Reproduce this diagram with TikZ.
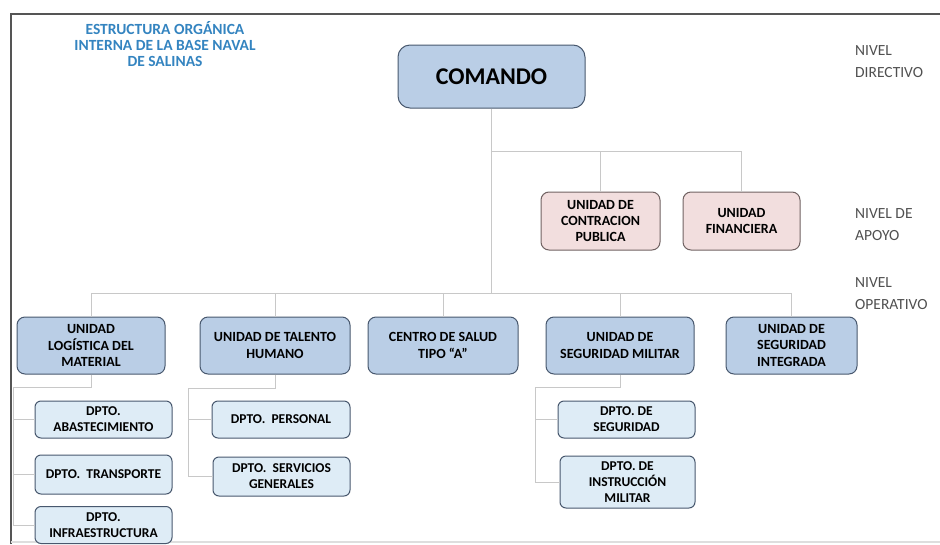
\documentclass[tikz,border=0pt]{standalone}
\usepackage{fontspec}
\setmainfont{Carlito}
\usepackage{xcolor}
\definecolor{navyBorder}{RGB}{72, 88, 110}
\definecolor{unitBlue}{RGB}{186, 206, 230}
\definecolor{deptBlue}{RGB}{222, 236, 246}
\definecolor{supportPink}{RGB}{242, 222, 222}
\definecolor{supportBorder}{RGB}{112, 98, 98}
\definecolor{titleBlue}{RGB}{52, 132, 192}
\definecolor{linkGray}{RGB}{200, 200, 200}
\definecolor{levelGray}{RGB}{80, 80, 80}
\definecolor{frameGray}{RGB}{85, 85, 85}

\begin{document}
\begin{tikzpicture}[x=1pt, y=-1pt]
                    \tikzstyle{unit} = [draw=navyBorder, fill=unitBlue, rounded corners=8pt, line width=1pt, align=center, inner sep=0pt, font=\bfseries\fontsize{14}{16.5}\selectfont]
                    \tikzstyle{dept} = [draw=navyBorder, fill=deptBlue, rounded corners=6pt, line width=1pt, align=center, inner sep=0pt, font=\bfseries\fontsize{13.5}{16}\selectfont]
                    \tikzstyle{support} = [draw=supportBorder, fill=supportPink, rounded corners=8pt, line width=1pt, align=center, inner sep=0pt, font=\bfseries\fontsize{14}{16}\selectfont]
                    \tikzstyle{level} = [align=left, anchor=north west, inner sep=0pt, text=levelGray, font=\fontsize{15.5}{22}\selectfont]
                    \tikzstyle{link} = [draw=linkGray, line width=1pt]
                    \useasboundingbox (0,0) rectangle (940,544);
                    \begin{scope}
                    \clip (0,0) rectangle (940,544);
                    % frame
                    \draw[frameGray, line width=2pt] (11,544) -- (11,14) -- (940,14);
                    \draw[linkGray!60, line width=1.5pt] (11,542) -- (940,542);
                    % title and levels
                    \node[align=center, text=titleBlue, inner sep=0pt, font=\bfseries\fontsize{15.5}{16}\selectfont] (title) at (165,44.5) {ESTRUCTURA ORGÁNICA\\INTERNA DE LA BASE NAVAL\\DE SALINAS};
                    \node[level] (directivo) at (855,45) {NIVEL\\DIRECTIVO};
                    \node[level] (apoyolbl) at (855,208) {NIVEL DE\\APOYO};
                    \node[level] (operativolbl) at (855,277) {NIVEL\\OPERATIVO};
                    % command
                    \node[unit, minimum width=187pt, minimum height=63pt, rounded corners=12pt, font=\bfseries\fontsize{24}{28}\selectfont] (comando) at (491.5,76.5) {COMANDO};
                    % support units
                    \node[support, minimum width=119pt, minimum height=58pt] (contratacion) at (600.5,221) {UNIDAD DE\\CONTRACION\\PUBLICA};
                    \node[support, minimum width=117pt, minimum height=58pt] (financiera) at (741.5,221) {UNIDAD\\FINANCIERA};
                    % operative units
                    \node[unit, minimum width=148pt, minimum height=57pt] (logistica) at (91,345.5) {UNIDAD\\LOGÍSTICA DEL\\MATERIAL};
                    \node[unit, minimum width=150pt, minimum height=57pt] (talento) at (275,345.5) {UNIDAD DE TALENTO\\HUMANO};
                    \node[unit, minimum width=150pt, minimum height=57pt] (salud) at (443,345.5) {CENTRO DE SALUD\\TIPO “A”};
                    \node[unit, minimum width=148pt, minimum height=57pt] (segmilitar) at (620,345.5) {UNIDAD DE\\SEGURIDAD MILITAR};
                    \node[unit, minimum width=131pt, minimum height=57pt] (segintegrada) at (791.5,345.5) {UNIDAD DE\\SEGURIDAD\\INTEGRADA};
                    % departments
                    \node[dept, minimum width=137pt, minimum height=37pt] (abastecimiento) at (103.5,419.5) {DPTO.\\ABASTECIMIENTO};
                    \node[dept, minimum width=137pt, minimum height=39pt] (transporte) at (103.5,474.5) {DPTO.\ \ TRANSPORTE};
                    \node[dept, minimum width=137pt, minimum height=37pt] (infraestructura) at (103.5,525) {DPTO.\\INFRAESTRUCTURA};
                    \node[dept, minimum width=138pt, minimum height=37pt] (personal) at (281,419.5) {DPTO.\ \ PERSONAL};
                    \node[dept, minimum width=137pt, minimum height=39pt] (servicios) at (281.5,476.5) {DPTO.\ \ SERVICIOS\\GENERALES};
                    \node[dept, minimum width=137pt, minimum height=37pt] (seguridad) at (626.5,419.5) {DPTO. DE\\SEGURIDAD};
                    \node[dept, minimum width=135pt, minimum height=52pt] (instruccion) at (627.5,482) {DPTO. DE\\INSTRUCCIÓN\\MILITAR};
                    % connectors
                    \coordinate (apoyobus) at (491.5,151);
                    \coordinate (operbus) at (491.5,293);
                    \coordinate (logbend) at (13,387);
                    \coordinate (talbend) at (188,388);
                    \coordinate (segbend) at (535,387);
                    \draw[link] (comando.south) -- (operbus);
                    \draw[link] (apoyobus) -| (contratacion.north);
                    \draw[link] (apoyobus) -| (financiera.north);
                    \draw[link] (operbus) -| (logistica.north);
                    \draw[link] (operbus) -| (talento.north);
                    \draw[link] (operbus) -| (salud.north);
                    \draw[link] (operbus) -| (segmilitar.north);
                    \draw[link] (operbus) -| (segintegrada.north);
                    \draw[link] (logistica.south) |- (logbend);
                    \draw[link] (logbend) |- (abastecimiento.west);
                    \draw[link] (logbend) |- (transporte.west);
                    \draw[link] (logbend) |- (infraestructura.west);
                    \draw[link] (talento.south) |- (talbend);
                    \draw[link] (talbend) |- (personal.west);
                    \draw[link] (talbend) |- (servicios.west);
                    \draw[link] (segmilitar.south) |- (segbend);
                    \draw[link] (segbend) |- (seguridad.west);
                    \draw[link] (segbend) |- (instruccion.west);
                    \end{scope}
                \end{tikzpicture}
\end{document}
